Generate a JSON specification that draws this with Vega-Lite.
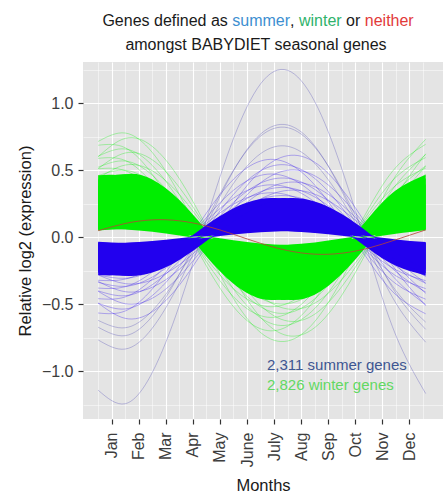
{
  "$schema": "https://vega.github.io/schema/vega-lite/v6.json",
  "width": 360,
  "height": 357,
  "autosize": "none",
  "padding": {"left": 83, "top": 62, "right": 1, "bottom": 79},
  "background": "#ffffff",
  "config": {"view": {"fill": "#e4e4e4", "stroke": null}},
  "resolve": {"axis": {"x": "independent", "y": "independent"}},
  "data": {"values": [
    {"grp": "gcore", "id": "g69", "m": [0.5,1.5,2.5,3.5,4.5,5.5,6.5,7.5,8.5,9.5,10.5,11.5,12.6], "lo": [0.059,0.057,0.040,0.012,-0.019,-0.045,-0.059,-0.057,-0.040,-0.012,0.019,0.045,0.059], "hi": [0.460,0.447,0.314,0.098,-0.145,-0.349,-0.460,-0.447,-0.314,-0.098,0.145,0.349,0.464]},
    {"grp": "gcore", "id": "g73", "m": [0.5,1.5,2.5,3.5,4.5,5.5,6.5,7.5,8.5,9.5,10.5,11.5,12.6], "lo": [0.055,0.060,0.049,0.024,-0.006,-0.035,-0.055,-0.060,-0.049,-0.024,0.006,0.035,0.056], "hi": [0.430,0.468,0.380,0.191,-0.049,-0.276,-0.430,-0.468,-0.380,-0.191,0.049,0.276,0.439]},
    {"grp": "gcore", "id": "g77", "m": [0.5,1.5,2.5,3.5,4.5,5.5,6.5,7.5,8.5,9.5,10.5,11.5,12.6], "lo": [0.049,0.060,0.055,0.035,0.006,-0.024,-0.049,-0.060,-0.055,-0.035,-0.006,0.024,0.050], "hi": [0.380,0.468,0.430,0.276,0.049,-0.191,-0.380,-0.468,-0.430,-0.276,-0.049,0.191,0.394]},
    {"grp": "bcore", "id": "b69", "m": [0.5,1.5,2.5,3.5,4.5,5.5,6.5,7.5,8.5,9.5,10.5,11.5,12.6], "lo": [-0.044,-0.043,-0.030,-0.009,0.014,0.033,0.044,0.043,0.030,0.009,-0.014,-0.033,-0.044], "hi": [-0.284,-0.276,-0.194,-0.060,0.090,0.215,0.284,0.276,0.194,0.060,-0.090,-0.215,-0.287]},
    {"grp": "bcore", "id": "b73", "m": [0.5,1.5,2.5,3.5,4.5,5.5,6.5,7.5,8.5,9.5,10.5,11.5,12.6], "lo": [-0.041,-0.045,-0.036,-0.018,0.005,0.026,0.041,0.045,0.036,0.018,-0.005,-0.026,-0.042], "hi": [-0.265,-0.289,-0.235,-0.118,0.030,0.171,0.265,0.289,0.235,0.118,-0.030,-0.171,-0.271]},
    {"grp": "bcore", "id": "b77", "m": [0.5,1.5,2.5,3.5,4.5,5.5,6.5,7.5,8.5,9.5,10.5,11.5,12.6], "lo": [-0.036,-0.045,-0.041,-0.026,-0.005,0.018,0.036,0.045,0.041,0.026,0.005,-0.018,-0.038], "hi": [-0.235,-0.289,-0.265,-0.171,-0.030,0.118,0.235,0.289,0.265,0.171,0.030,-0.118,-0.243]},
    {"grp": "red", "id": "red", "m": [0.5,1.5,2.5,3.5,4.5,5.5,6.5,7.5,8.5,9.5,10.5,11.5,12.6], "v": [0.047,0.101,0.128,0.121,0.082,0.020,-0.047,-0.101,-0.128,-0.121,-0.082,-0.020,0.053]},
    {"grp": "bf", "id": "b31", "m": [0.5,1.5,2.5,3.5,4.5,5.5,6.5,7.5,8.5,9.5,10.5,11.5,12.6], "v": [-0.283,-0.308,-0.251,-0.126,0.033,0.182,0.283,0.308,0.251,0.126,-0.033,-0.182,-0.290]},
    {"grp": "bf", "id": "b33", "m": [0.5,1.5,2.5,3.5,4.5,5.5,6.5,7.5,8.5,9.5,10.5,11.5,12.6], "v": [-0.323,-0.314,-0.221,-0.069,0.102,0.245,0.323,0.314,0.221,0.069,-0.102,-0.245,-0.326]},
    {"grp": "bf", "id": "b35", "m": [0.5,1.5,2.5,3.5,4.5,5.5,6.5,7.5,8.5,9.5,10.5,11.5,12.6], "v": [-0.283,-0.348,-0.320,-0.206,-0.037,0.142,0.283,0.348,0.320,0.206,0.037,-0.142,-0.294]},
    {"grp": "bf", "id": "b37", "m": [0.5,1.5,2.5,3.5,4.5,5.5,6.5,7.5,8.5,9.5,10.5,11.5,12.6], "v": [-0.338,-0.368,-0.299,-0.151,0.039,0.218,0.338,0.368,0.299,0.151,-0.039,-0.218,-0.346]},
    {"grp": "bf", "id": "b39", "m": [0.5,1.5,2.5,3.5,4.5,5.5,6.5,7.5,8.5,9.5,10.5,11.5,12.6], "v": [-0.381,-0.371,-0.261,-0.081,0.121,0.290,0.381,0.371,0.261,0.081,-0.121,-0.290,-0.385]},
    {"grp": "bf", "id": "b41", "m": [0.5,1.5,2.5,3.5,4.5,5.5,6.5,7.5,8.5,9.5,10.5,11.5,12.6], "v": [-0.332,-0.408,-0.375,-0.241,-0.043,0.167,0.332,0.408,0.375,0.241,0.043,-0.167,-0.344]},
    {"grp": "bf", "id": "b44", "m": [0.5,1.5,2.5,3.5,4.5,5.5,6.5,7.5,8.5,9.5,10.5,11.5,12.6], "v": [-0.402,-0.438,-0.356,-0.179,0.046,0.259,0.402,0.438,0.356,0.179,-0.046,-0.259,-0.411]},
    {"grp": "bf", "id": "b47", "m": [0.5,1.5,2.5,3.5,4.5,5.5,6.5,7.5,8.5,9.5,10.5,11.5,12.6], "v": [-0.460,-0.447,-0.314,-0.098,0.145,0.349,0.460,0.447,0.314,0.098,-0.145,-0.349,-0.464]},
    {"grp": "bf", "id": "b50", "m": [0.5,1.5,2.5,3.5,4.5,5.5,6.5,7.5,8.5,9.5,10.5,11.5,12.6], "v": [-0.405,-0.498,-0.457,-0.294,-0.053,0.204,0.405,0.498,0.457,0.294,0.053,-0.204,-0.420]},
    {"grp": "bf", "id": "b54", "m": [0.5,1.5,2.5,3.5,4.5,5.5,6.5,7.5,8.5,9.5,10.5,11.5,12.6], "v": [-0.494,-0.537,-0.437,-0.220,0.057,0.318,0.494,0.537,0.437,0.220,-0.057,-0.318,-0.504]},
    {"grp": "bf", "id": "b58", "m": [0.5,1.5,2.5,3.5,4.5,5.5,6.5,7.5,8.5,9.5,10.5,11.5,12.6], "v": [-0.567,-0.552,-0.388,-0.121,0.179,0.431,0.567,0.552,0.388,0.121,-0.179,-0.431,-0.573]},
    {"grp": "bf", "id": "b61", "m": [0.5,1.5,2.5,3.5,4.5,5.5,6.5,7.5,8.5,9.5,10.5,11.5,12.6], "v": [-0.493,-0.607,-0.558,-0.359,-0.064,0.248,0.493,0.607,0.558,0.359,0.064,-0.248,-0.512]},
    {"grp": "bo", "id": "o68", "m": [0.5,1.5,2.5,3.5,4.5,5.5,6.5,7.5,8.5,9.5,10.5,11.5,12.6], "v": [-0.622,-0.677,-0.550,-0.277,0.071,0.400,0.622,0.677,0.550,0.277,-0.071,-0.400,-0.635]},
    {"grp": "bo", "id": "o78", "m": [0.5,1.5,2.5,3.5,4.5,5.5,6.5,7.5,8.5,9.5,10.5,11.5,12.6], "v": [-0.673,-0.736,-0.591,-0.277,0.122,0.499,0.753,0.816,0.671,0.357,-0.042,-0.419,-0.689]},
    {"grp": "bo", "id": "o84", "m": [0.5,1.5,2.5,3.5,4.5,5.5,6.5,7.5,8.5,9.5,10.5,11.5,12.6], "v": [-0.768,-0.836,-0.680,-0.342,0.088,0.494,0.768,0.836,0.680,0.342,-0.088,-0.494,-0.785]},
    {"grp": "bo", "id": "o125", "m": [0.5,1.5,2.5,3.5,4.5,5.5,6.5,7.5,8.5,9.5,10.5,11.5,12.6], "v": [-1.143,-1.244,-1.011,-0.509,0.131,0.735,1.143,1.244,1.011,0.509,-0.131,-0.735,-1.168]},
    {"grp": "gf", "id": "g50", "m": [0.5,1.5,2.5,3.5,4.5,5.5,6.5,7.5,8.5,9.5,10.5,11.5,12.6], "v": [0.457,0.498,0.405,0.204,-0.053,-0.294,-0.457,-0.498,-0.405,-0.204,0.053,0.294,0.467]},
    {"grp": "gf", "id": "g52", "m": [0.5,1.5,2.5,3.5,4.5,5.5,6.5,7.5,8.5,9.5,10.5,11.5,12.6], "v": [0.509,0.495,0.348,0.108,-0.161,-0.386,-0.509,-0.495,-0.348,-0.108,0.161,0.386,0.514]},
    {"grp": "gf", "id": "g54", "m": [0.5,1.5,2.5,3.5,4.5,5.5,6.5,7.5,8.5,9.5,10.5,11.5,12.6], "v": [0.437,0.537,0.494,0.318,0.057,-0.220,-0.437,-0.537,-0.494,-0.318,-0.057,0.220,0.453]},
    {"grp": "gf", "id": "g57", "m": [0.5,1.5,2.5,3.5,4.5,5.5,6.5,7.5,8.5,9.5,10.5,11.5,12.6], "v": [0.521,0.567,0.461,0.232,-0.060,-0.335,-0.521,-0.567,-0.461,-0.232,0.060,0.335,0.532]},
    {"grp": "gf", "id": "g60", "m": [0.5,1.5,2.5,3.5,4.5,5.5,6.5,7.5,8.5,9.5,10.5,11.5,12.6], "v": [0.587,0.571,0.401,0.125,-0.185,-0.446,-0.587,-0.571,-0.401,-0.125,0.185,0.446,0.593]},
    {"grp": "gf", "id": "g63", "m": [0.5,1.5,2.5,3.5,4.5,5.5,6.5,7.5,8.5,9.5,10.5,11.5,12.6], "v": [0.510,0.627,0.576,0.370,0.066,-0.256,-0.510,-0.627,-0.576,-0.370,-0.066,0.256,0.529]},
    {"grp": "gf", "id": "g66", "m": [0.5,1.5,2.5,3.5,4.5,5.5,6.5,7.5,8.5,9.5,10.5,11.5,12.6], "v": [0.603,0.657,0.534,0.269,-0.069,-0.388,-0.603,-0.657,-0.534,-0.269,0.069,0.388,0.616]},
    {"grp": "gf", "id": "g70", "m": [0.5,1.5,2.5,3.5,4.5,5.5,6.5,7.5,8.5,9.5,10.5,11.5,12.6], "v": [0.685,0.666,0.468,0.146,-0.216,-0.520,-0.685,-0.666,-0.468,-0.146,0.216,0.520,0.692]},
    {"grp": "gf", "id": "g74", "m": [0.5,1.5,2.5,3.5,4.5,5.5,6.5,7.5,8.5,9.5,10.5,11.5,12.6], "v": [0.599,0.736,0.676,0.435,0.078,-0.301,-0.599,-0.736,-0.676,-0.435,-0.078,0.301,0.621]},
    {"grp": "gf", "id": "g78", "m": [0.5,1.5,2.5,3.5,4.5,5.5,6.5,7.5,8.5,9.5,10.5,11.5,12.6], "v": [0.713,0.776,0.631,0.317,-0.082,-0.459,-0.713,-0.776,-0.631,-0.317,0.082,0.459,0.729]}
  ]},
  "layer": [
    {
      "transform": [{"filter": "datum.grp === 'gf'"}, {"flatten": ["m", "v"]}],
      "mark": {"type": "line", "interpolate": "natural", "color": "#00ee00", "opacity": 0.3, "strokeWidth": 1},
      "encoding": {
        "x": {"field": "m", "type": "quantitative",
          "scale": {"domain": [-0.06, 13.24], "nice": false, "zero": false},
          "axis": {"title": "Months", "orient": "bottom",
            "values": [1,2,3,4,5,6,7,8,9,10,11,12],
            "labelExpr": "['Jan','Feb','Mar','Apr','May','June','July','Aug','Sep','Oct','Nov','Dec'][round(datum.value) - 1]",
            "labelAngle": 270, "labelFont": "Liberation Sans", "labelFontSize": 16, "labelColor": "#3d3d3d",
            "labelPadding": 8, "labelOverlap": false, "labelBound": false, "labelFlush": false,
            "tickSize": 5, "tickWidth": 1.2, "tickColor": "#333333",
            "domain": false, "grid": true, "gridColor": "#ffffff", "gridWidth": 1.1,
            "titleFont": "Liberation Sans", "titleFontSize": 16.5, "titleFontWeight": "normal", "titleColor": "#1a1a1a", "titlePadding": 11}},
        "y": {"field": "v", "type": "quantitative",
          "scale": {"domain": [-1.358, 1.306], "nice": false, "zero": false},
          "axis": {"title": "Relative log2 (expression)", "orient": "left",
            "values": [-1, -0.5, 0, 0.5, 1],
            "format": ".1f",
            "labelFont": "Liberation Sans", "labelFontSize": 16, "labelColor": "#3d3d3d",
            "labelPadding": 5, "labelOverlap": false, "labelBound": false, "labelFlush": false,
            "tickSize": 5, "tickWidth": 1.2, "tickColor": "#333333",
            "domain": false, "grid": true, "gridColor": "#ffffff", "gridWidth": 1.1,
            "titleFont": "Liberation Sans", "titleFontSize": 16.5, "titleFontWeight": "normal", "titleColor": "#1a1a1a", "titlePadding": 8}},
        "detail": {"field": "id"}
      }
    },
    {
      "transform": [{"filter": "datum.grp === 'bf'"}, {"flatten": ["m", "v"]}],
      "mark": {"type": "line", "interpolate": "natural", "color": "#2200ee", "opacity": 0.3, "strokeWidth": 1},
      "encoding": {
        "x": {"field": "m", "type": "quantitative",
          "axis": {"title": null, "orient": "bottom", "values": [0.5,1.5,2.5,3.5,4.5,5.5,6.5,7.5,8.5,9.5,10.5,11.5,12.5],
            "labels": false, "ticks": false, "domain": false, "grid": true, "gridColor": "#ffffff", "gridWidth": 0.5}},
        "y": {"field": "v", "type": "quantitative",
          "axis": {"title": null, "orient": "left", "values": [-1.25, -0.75, -0.25, 0.25, 0.75, 1.25],
            "labels": false, "ticks": false, "domain": false, "grid": true, "gridColor": "#ffffff", "gridWidth": 0.5}},
        "detail": {"field": "id"}
      }
    },
    {
      "transform": [{"filter": "datum.grp === 'bo'"}, {"flatten": ["m", "v"]}],
      "mark": {"type": "line", "interpolate": "natural", "color": "#5a55b8", "opacity": 0.4, "strokeWidth": 0.9},
      "encoding": {"x": {"field": "m", "type": "quantitative", "axis": null}, "y": {"field": "v", "type": "quantitative", "axis": null}, "detail": {"field": "id"}}
    },
    {
      "transform": [{"filter": "datum.grp === 'gcore'"}, {"flatten": ["m", "lo", "hi"]}],
      "mark": {"type": "area", "interpolate": "natural", "color": "#00ee00", "opacity": 1},
      "encoding": {"x": {"field": "m", "type": "quantitative", "axis": null}, "y": {"field": "hi", "type": "quantitative", "axis": null}, "y2": {"field": "lo"}, "detail": {"field": "id"}}
    },
    {
      "transform": [{"filter": "datum.grp === 'bcore'"}, {"flatten": ["m", "lo", "hi"]}],
      "mark": {"type": "area", "interpolate": "natural", "color": "#2200ee", "opacity": 1},
      "encoding": {"x": {"field": "m", "type": "quantitative", "axis": null}, "y": {"field": "hi", "type": "quantitative", "axis": null}, "y2": {"field": "lo"}, "detail": {"field": "id"}}
    },
    {
      "transform": [{"filter": "datum.grp === 'red'"}, {"flatten": ["m", "v"]}],
      "mark": {"type": "line", "interpolate": "natural", "color": "#b84236", "opacity": 0.8, "strokeWidth": 1},
      "encoding": {"x": {"field": "m", "type": "quantitative", "axis": null}, "y": {"field": "v", "type": "quantitative", "axis": null}}
    },
    {
      "data": {"values": [{"t": "Genes defined as"}]},
      "mark": {"type": "text", "align": "left", "baseline": "alphabetic", "font": "Liberation Sans", "fontSize": 16, "color": "#1a1a1a"},
      "encoding": {"text": {"field": "t"}, "x": {"datum": 0.657, "type": "quantitative", "axis": null}, "y": {"datum": 1.575, "type": "quantitative", "axis": null}}
    },
    {
      "data": {"values": [{"t": "summer"}]},
      "mark": {"type": "text", "align": "left", "baseline": "alphabetic", "font": "Liberation Sans", "fontSize": 16, "color": "#3d8fd1"},
      "encoding": {"text": {"field": "t"}, "x": {"datum": 5.455, "type": "quantitative", "axis": null}, "y": {"datum": 1.575, "type": "quantitative", "axis": null}}
    },
    {
      "data": {"values": [{"t": ","}]},
      "mark": {"type": "text", "align": "left", "baseline": "alphabetic", "font": "Liberation Sans", "fontSize": 16, "color": "#1a1a1a"},
      "encoding": {"text": {"field": "t"}, "x": {"datum": 7.591, "type": "quantitative", "axis": null}, "y": {"datum": 1.575, "type": "quantitative", "axis": null}}
    },
    {
      "data": {"values": [{"t": "winter"}]},
      "mark": {"type": "text", "align": "left", "baseline": "alphabetic", "font": "Liberation Sans", "fontSize": 16, "color": "#2fb36c"},
      "encoding": {"text": {"field": "t"}, "x": {"datum": 7.919, "type": "quantitative", "axis": null}, "y": {"datum": 1.575, "type": "quantitative", "axis": null}}
    },
    {
      "data": {"values": [{"t": "or"}]},
      "mark": {"type": "text", "align": "left", "baseline": "alphabetic", "font": "Liberation Sans", "fontSize": 16, "color": "#1a1a1a"},
      "encoding": {"text": {"field": "t"}, "x": {"datum": 9.659, "type": "quantitative", "axis": null}, "y": {"datum": 1.575, "type": "quantitative", "axis": null}}
    },
    {
      "data": {"values": [{"t": "neither"}]},
      "mark": {"type": "text", "align": "left", "baseline": "alphabetic", "font": "Liberation Sans", "fontSize": 16, "color": "#e23a3a"},
      "encoding": {"text": {"field": "t"}, "x": {"datum": 10.35, "type": "quantitative", "axis": null}, "y": {"datum": 1.575, "type": "quantitative", "axis": null}}
    },
    {
      "data": {"values": [{"t": "amongst BABYDIET seasonal genes"}]},
      "mark": {"type": "text", "align": "center", "baseline": "alphabetic", "font": "Liberation Sans", "fontSize": 16, "color": "#1a1a1a"},
      "encoding": {"text": {"field": "t"}, "x": {"datum": 6.331, "type": "quantitative", "axis": null}, "y": {"datum": 1.396, "type": "quantitative", "axis": null}}
    },
    {
      "data": {"values": [{"t": "2,311 summer genes"}]},
      "mark": {"type": "text", "align": "left", "baseline": "middle", "font": "Liberation Sans", "fontSize": 15, "color": "#3e5692"},
      "encoding": {"text": {"field": "t"}, "x": {"datum": 6.737, "type": "quantitative", "axis": null}, "y": {"datum": -0.955, "type": "quantitative", "axis": null}}
    },
    {
      "data": {"values": [{"t": "2,826 winter genes"}]},
      "mark": {"type": "text", "align": "left", "baseline": "middle", "font": "Liberation Sans", "fontSize": 15, "color": "#62d862"},
      "encoding": {"text": {"field": "t"}, "x": {"datum": 6.737, "type": "quantitative", "axis": null}, "y": {"datum": -1.104, "type": "quantitative", "axis": null}}
    }
  ]
}
